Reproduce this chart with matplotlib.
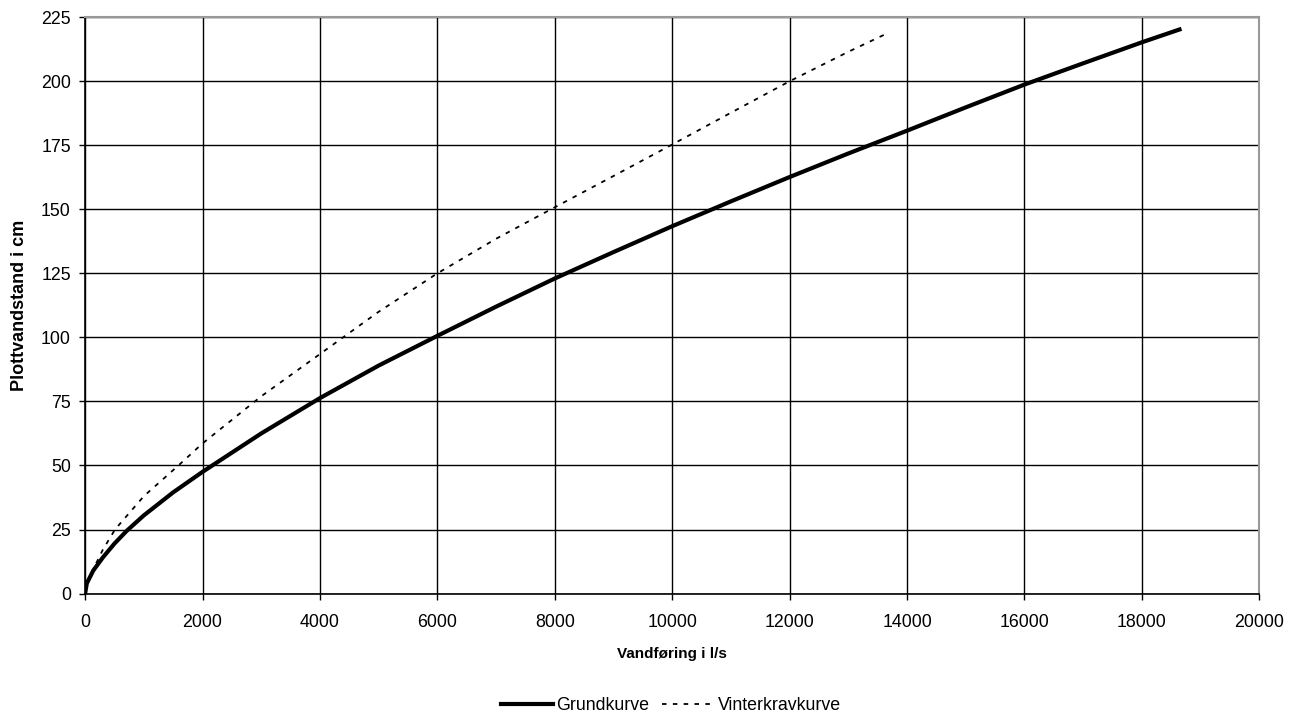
import matplotlib
matplotlib.use("Agg")
import matplotlib.pyplot as plt

plt.rcParams['font.family'] = ['Liberation Sans', 'DejaVu Sans']

# Grundkurve (vandføring l/s, vandstand cm)
grund_q = [0, 30, 140, 300, 500, 710, 1000, 1500, 2000, 3000, 4000, 5000, 6000, 7000, 8000,
           9000, 10000, 11000, 12000, 13000, 14000, 15000, 16000, 17000, 18000, 18640]
grund_h = [0, 4, 9, 14, 19.5, 24.5, 30.5, 39.5, 47.5, 62.5, 76.3, 89, 100.6, 112, 123,
           133.3, 143.4, 153.1, 162.6, 171.8, 180.7, 189.8, 198.7, 207, 215.2, 220.2]

# Vinterkravkurve
vinter_q = [0, 50, 150, 300, 510, 1000, 1590, 2000, 3000, 4000, 5000, 6000, 7000, 8000,
            9000, 10000, 11000, 12000, 13000, 13690]
vinter_h = [0, 5, 10, 17, 25, 38, 50, 58.6, 77, 93.5, 110, 125, 138.5, 150.8,
            163, 175.3, 187.7, 200, 211.5, 219]

x_ticks = list(range(0, 20001, 2000))
y_ticks = list(range(0, 226, 25))

fig = plt.figure(figsize=(12.89, 7.16), dpi=100)
ax = fig.add_axes([0.066, 0.171, 0.911, 0.805])

ax.plot(grund_q, grund_h, color='black', linewidth=3, label='Grundkurve', zorder=3)
ax.plot(vinter_q, vinter_h, color='black', linewidth=1.3, linestyle=(0, (2.5, 3.5)),
        label='Vinterkravkurve', zorder=3)

ax.set_xlim(0, 20000)
ax.set_ylim(0, 225)
ax.set_xticks(x_ticks)
ax.set_yticks(y_ticks)
ax.tick_params(labelsize=12.8, length=4.5, width=1, direction='out')
ax.tick_params(axis='x', pad=10.5)
ax.tick_params(axis='y', pad=5.8)
ax.grid(True, color='black', linewidth=1)
ax.set_axisbelow(True)

for side in ['top', 'right']:
    ax.spines[side].set_color('#999999')
    ax.spines[side].set_linewidth(1.5)
for side in ['left', 'bottom']:
    ax.spines[side].set_color('black')
    ax.spines[side].set_linewidth(1.2)

ax.set_xlabel('Vandføring i l/s', fontsize=11, fontweight='bold', labelpad=11)
ax.set_ylabel('Plottvandstand i cm', fontsize=13, fontweight='bold', labelpad=9)

fig.legend(loc='center', bbox_to_anchor=(0.5206, 0.014), ncol=2, frameon=False,
           fontsize=12.8, handlelength=2.9, handletextpad=0.22, columnspacing=0.73)

fig.savefig('out.png', dpi=100)
